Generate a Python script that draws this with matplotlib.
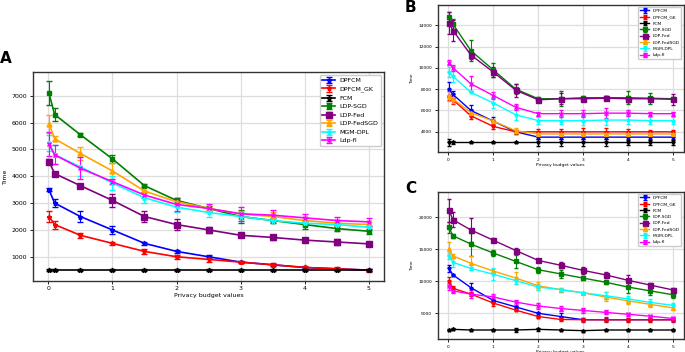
import numpy as np
import matplotlib
matplotlib.use("Agg")
import matplotlib.pyplot as plt

# privacy budget values (x axis)
eps = [0.01, 0.1, 0.5, 1, 1.5, 2, 2.5, 3, 3.5, 4, 4.5, 5]

names = ['DPFCM', 'DPFCM_GK', 'FCM', 'LDP-SGD', 'LDP-Fed', 'LDP-FedSGD', 'MGM-DPL', 'Ldp-fl']
colors = ['blue', 'red', 'black', 'green', 'purple', 'orange', 'cyan', 'magenta']
markers = ['*', '*', '*', 's', 's', '^', '*', 'x']
msizes = [3.5, 3.5, 3.5, 3, 4.5, 3.5, 3.5, 3.5]

# ---- panel A ----
a_dpfcm = [3500, 3000, 2500, 2000, 1500, 1200, 1000, 800, 700, 600, 550, 500]
a_gk = [2500, 2200, 1800, 1500, 1200, 1000, 900, 800, 700, 600, 550, 500]
a_fcm = [500, 500, 500, 500, 500, 500, 500, 500, 500, 500, 500, 500]
a_sgd = [7100, 6300, 5550, 4650, 3650, 3100, 2800, 2500, 2350, 2200, 2050, 1950]
a_fed = [4550, 4100, 3650, 3100, 2500, 2200, 2000, 1800, 1720, 1620, 1550, 1480]
a_fedsgd = [5950, 5400, 4850, 4200, 3450, 3050, 2800, 2600, 2500, 2350, 2250, 2200]
a_mgm = [5250, 4800, 4350, 3750, 3200, 2850, 2650, 2500, 2350, 2250, 2200, 2100]
a_fl = [5200, 4800, 4300, 3800, 3300, 2950, 2800, 2600, 2550, 2450, 2350, 2300]

a_err_dpfcm = [50, 150, 200, 150, 50, 50, 50, 30, 30, 30, 30, 30]
a_err_gk = [200, 150, 100, 50, 80, 80, 80, 50, 50, 50, 50, 50]
a_err_fcm = [30, 30, 30, 30, 30, 30, 30, 30, 30, 30, 30, 30]
a_err_sgd = [450, 250, 50, 150, 50, 100, 100, 250, 100, 150, 100, 100]
a_err_fed = [100, 50, 50, 250, 200, 200, 100, 50, 100, 50, 100, 50]
a_err_fedsgd = [350, 100, 250, 300, 50, 50, 100, 100, 150, 100, 100, 100]
a_err_mgm = [300, 350, 350, 250, 200, 200, 150, 150, 100, 100, 100, 100]
a_err_fl = [450, 350, 400, 100, 100, 250, 150, 250, 200, 150, 150, 150]

# ---- panel B ----
b_dpfcm = [8000, 7500, 6000, 5000, 4000, 3500, 3500, 3500, 3500, 3500, 3500, 3500]
b_gk = [7400, 7000, 5500, 4500, 4000, 4000, 4000, 4000, 4000, 4000, 4000, 4000]
b_fcm = [3000, 3000, 3000, 3000, 3000, 3000, 3000, 3000, 3000, 3000, 3000, 3000]
b_sgd = [14800, 14100, 11600, 9800, 8000, 7100, 7100, 7200, 7200, 7200, 7150, 7100]
b_fed = [14200, 13500, 11200, 9600, 7900, 7000, 7100, 7100, 7150, 7100, 7100, 7050]
b_fedsgd = [7400, 7100, 5800, 5000, 4100, 3800, 3800, 3800, 3800, 3800, 3800, 3800]
b_mgm = [9600, 9200, 7700, 6700, 5600, 5050, 5050, 5050, 5100, 5100, 5050, 5050]
b_fl = [10500, 10000, 8500, 7400, 6300, 5700, 5700, 5700, 5750, 5750, 5700, 5700]

b_err_dpfcm = [700, 300, 500, 400, 200, 200, 200, 200, 200, 200, 200, 200]
b_err_gk = [400, 400, 300, 200, 200, 300, 300, 400, 400, 300, 200, 200]
b_err_fcm = [300, 100, 50, 50, 50, 300, 300, 300, 300, 200, 200, 200]
b_err_sgd = [400, 500, 1000, 700, 500, 200, 700, 200, 200, 600, 500, 200]
b_err_fed = [1000, 1000, 400, 500, 600, 200, 500, 200, 200, 300, 200, 500]
b_err_fedsgd = [500, 400, 200, 200, 300, 200, 200, 200, 200, 200, 200, 200]
b_err_mgm = [500, 500, 100, 500, 500, 300, 300, 400, 500, 400, 300, 300]
b_err_fl = [200, 300, 700, 300, 300, 200, 300, 300, 500, 300, 200, 200]

# ---- panel C ----
c_dpfcm = [12000, 11000, 9000, 7000, 6000, 5000, 4500, 4000, 4000, 4000, 4000, 4000]
c_gk = [10000, 8900, 8000, 6600, 5500, 4500, 4050, 4000, 4000, 4000, 4000, 4000]
c_fcm = [2400, 2500, 2400, 2400, 2400, 2500, 2400, 2300, 2400, 2400, 2400, 2400]
c_sgd = [18400, 17100, 15800, 14400, 13100, 11800, 11150, 10500, 9850, 9100, 8500, 7900]
c_fed = [21100, 19600, 18000, 16400, 14800, 13250, 12500, 11700, 11000, 10150, 9400, 8650]
c_fedsgd = [15050, 13950, 12800, 11600, 10500, 9300, 8700, 8200, 7550, 6950, 6400, 5850]
c_mgm = [13950, 12950, 12000, 11100, 10100, 9100, 8700, 8200, 7750, 7250, 6700, 6250]
c_fl = [9200, 8500, 8000, 7550, 6750, 6150, 5750, 5450, 5150, 4850, 4550, 4200]

c_err_dpfcm = [500, 200, 800, 300, 200, 200, 500, 200, 200, 200, 200, 200]
c_err_gk = [700, 400, 300, 400, 200, 200, 300, 300, 400, 300, 300, 300]
c_err_fcm = [200, 150, 150, 150, 300, 200, 150, 150, 150, 150, 150, 150]
c_err_sgd = [900, 300, 1800, 500, 1000, 500, 600, 300, 300, 900, 700, 500]
c_err_fed = [1800, 1200, 1800, 300, 400, 200, 500, 500, 400, 900, 400, 300]
c_err_fedsgd = [1000, 300, 1100, 300, 1000, 600, 300, 200, 700, 500, 400, 400]
c_err_mgm = [500, 700, 300, 900, 600, 400, 300, 200, 500, 400, 500, 300]
c_err_fl = [600, 300, 600, 500, 400, 500, 400, 400, 300, 200, 200, 300]

panels = {
    'A': ([a_dpfcm, a_gk, a_fcm, a_sgd, a_fed, a_fedsgd, a_mgm, a_fl],
          [a_err_dpfcm, a_err_gk, a_err_fcm, a_err_sgd, a_err_fed, a_err_fedsgd, a_err_mgm, a_err_fl]),
    'B': ([b_dpfcm, b_gk, b_fcm, b_sgd, b_fed, b_fedsgd, b_mgm, b_fl],
          [b_err_dpfcm, b_err_gk, b_err_fcm, b_err_sgd, b_err_fed, b_err_fedsgd, b_err_mgm, b_err_fl]),
    'C': ([c_dpfcm, c_gk, c_fcm, c_sgd, c_fed, c_fedsgd, c_mgm, c_fl],
          [c_err_dpfcm, c_err_gk, c_err_fcm, c_err_sgd, c_err_fed, c_err_fedsgd, c_err_mgm, c_err_fl]),
}

fig = plt.figure(figsize=(6.85, 3.52), dpi=100)
axes = {
    'A': fig.add_axes([0.048, 0.202, 0.513, 0.593]),
    'B': fig.add_axes([0.639, 0.568, 0.359, 0.418]),
    'C': fig.add_axes([0.639, 0.037, 0.359, 0.418]),
}
ylims = {'A': (100, 7880), 'B': (2100, 15900), 'C': (1000, 23950)}
yticks = {'A': [1000, 2000, 3000, 4000, 5000, 6000, 7000],
          'B': [4000, 6000, 8000, 10000, 12000, 14000],
          'C': [5000, 10000, 15000, 20000]}
fs = {'A': 4.5, 'B': 3.2, 'C': 3.2}
lw = {'A': 1.2, 'B': 1.0, 'C': 1.0}

for key, ax in axes.items():
    series, errs = panels[key]
    small = key != 'A'
    for vals, err, name, c, m, ms in zip(series, errs, names, colors, markers, msizes):
        ax.errorbar(eps, vals, yerr=err, color=c, marker=m, label=name,
                    markersize=ms * (0.8 if small else 1.0), linewidth=lw[key],
                    capsize=1.5 if small else 2, elinewidth=0.8)
    ax.set_xlim(-0.24, 5.24)
    ax.set_ylim(*ylims[key])
    ax.set_yticks(yticks[key])
    ax.set_xticks([0, 1, 2, 3, 4, 5])
    ax.grid(True, color='#dddddd', linewidth=0.9)
    ax.set_axisbelow(True)
    ax.tick_params(labelsize=fs[key], length=2, width=0.6, pad=2)
    for sp in ax.spines.values():
        sp.set_color('#333333')
        sp.set_linewidth(1.0)
    ax.set_xlabel('Privacy budget values', fontsize=fs[key], labelpad=1)
    ax.set_ylabel('Time', fontsize=fs[key], labelpad=3)
    ax.legend(loc='upper right', fontsize=fs[key],
              handlelength=2.0, borderpad=0.4, labelspacing=0.5, framealpha=1)

fig.text(0.0, 0.82, 'A', fontsize=11, fontweight='bold')
fig.text(0.591, 0.966, 'B', fontsize=11, fontweight='bold')
fig.text(0.591, 0.452, 'C', fontsize=11, fontweight='bold')

fig.savefig('out.png', dpi=100)
